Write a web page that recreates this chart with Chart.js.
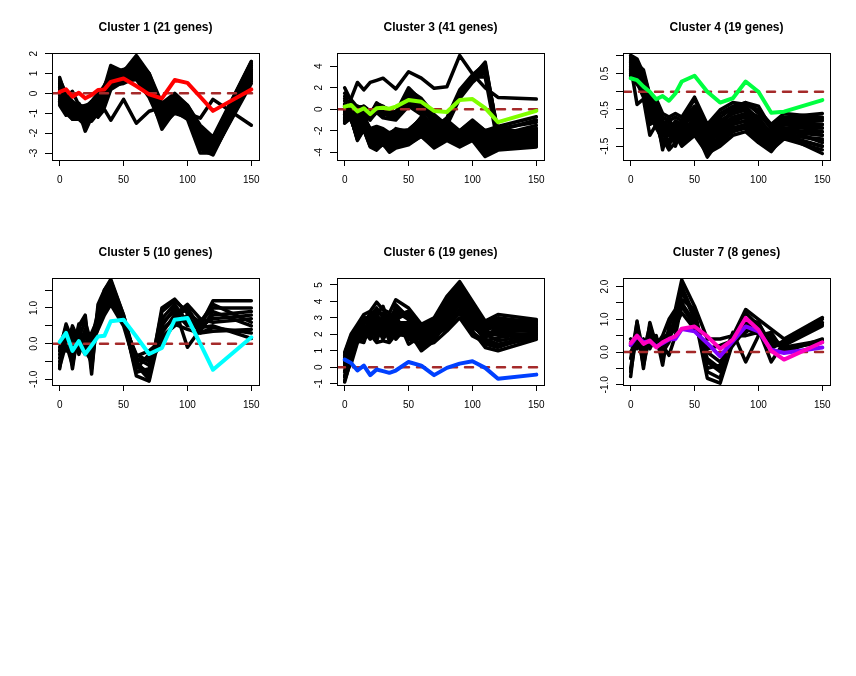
<!DOCTYPE html>
<html>
<head>
<meta charset="utf-8">
<script src="https://cdn.jsdelivr.net/npm/chart.js@4"></script>
<style>
  body { margin: 0; background: #fff; }
  #painel { position: relative; width: 856px; height: 676px; background: #fff; }
  canvas { position: absolute; }
</style>
</head>
<body>
<div id="painel"></div>
<script>
// time points (minutes) and x axis
var tempos = [0, 5, 10, 15, 20, 25, 30, 35, 40, 50, 60, 70, 80, 90, 100, 110, 120, 150];
var ticksX = [0, 50, 100, 150];
var limitesX = [-6, 156];

// Cluster 1 (21 genes)
var c1Genes = [
  [0.8,-0.2,-0.6,-0.8,-0.9,-0.6,-0.2,0.1,1.3,1.0,1.8,0.9,-0.8,-0.2,-0.8,-2.0,-2.7,1.5],
  [0.5,-0.5,-1.0,-1.1,-1.4,-1.0,-0.6,-0.3,0.9,0.9,1.5,0.6,-1.2,-0.5,-1.0,-2.4,-2.9,1.2],
  [0.1,-0.8,-1.2,-0.9,-1.9,-1.2,-0.8,-0.4,0.5,0.7,1.1,0.2,-1.5,-0.7,-1.2,-2.8,-3.1,0.8],
  [-0.3,-0.6,-0.9,-1.2,-1.0,-0.8,-0.4,0.0,0.7,1.1,1.3,0.5,-0.9,-0.3,-0.7,-2.1,-2.5,1.1],
  [0.3,-0.2,0.1,-0.6,-0.7,-0.5,-0.1,0.3,1.1,0.8,1.6,0.8,-0.6,-0.1,-0.6,-1.7,-2.3,1.6],
  [-0.5,-1.0,-1.3,-1.1,-1.5,-1.3,-0.9,-0.6,0.3,0.6,0.9,0.1,-1.8,-0.9,-1.3,-3.0,-3.0,0.6],
  [0.0,-0.7,-1.1,-1.0,-1.2,-0.7,-0.3,0.2,0.9,1.0,1.4,0.7,-1.1,-0.4,-0.9,-2.3,-2.8,1.3],
  [0.6,-0.3,-0.7,-0.7,-0.8,-0.9,-0.5,-0.1,1.2,0.9,1.7,1.0,-0.7,-0.2,-0.8,-1.9,-2.4,1.4],
  [-0.2,-0.9,-1.3,-1.3,-1.6,-1.1,-0.7,-0.5,0.4,0.5,0.8,0.0,-1.4,-0.8,-1.1,-2.6,-2.9,0.7],
  [0.4,-0.4,-0.8,-0.5,-1.0,-0.6,-0.1,0.4,1.0,1.2,1.5,0.6,-1.0,-0.3,-0.9,-2.2,-2.6,1.0],
  [-0.6,-1.1,-0.9,-1.2,-1.3,-1.4,-1.0,-0.7,0.2,0.6,0.7,-0.2,-1.6,-1.0,-1.2,-2.7,-3.0,0.5],
  [0.2,-0.5,-1.0,-0.8,-1.1,-1.0,-0.6,-0.1,0.8,0.8,1.2,0.3,-1.3,-0.6,-1.0,-2.5,-2.7,0.9],
  [0.7,0.0,-0.5,-0.6,-0.7,-0.4,0.0,0.3,1.4,1.1,1.9,1.0,-0.5,0.0,-0.6,-1.6,-2.2,1.6],
  [-0.4,-0.8,-1.2,-1.0,-1.4,-0.9,-0.5,-0.3,0.6,0.7,1.0,0.3,-1.2,-0.6,-1.1,-2.4,-2.8,0.9],
  [0.3,-0.3,-0.6,-0.9,-0.9,-0.7,-0.3,0.0,1.0,0.9,1.4,0.6,-0.9,-0.3,-0.8,-2.0,-2.5,1.2],
  [-0.1,-0.6,-1.1,-1.3,-1.2,-1.1,-0.8,-0.2,0.7,0.9,1.3,0.4,-1.1,-0.5,-1.0,-2.3,-2.7,1.0],
  [0.1,-0.7,-1.0,-1.0,-1.7,-1.2,-0.6,-0.4,0.5,0.8,1.0,0.2,-1.4,-0.6,-1.1,-2.6,-3.0,0.8],
  [0.5,-0.1,-0.4,-0.7,-0.6,-0.5,-0.2,0.2,1.2,1.0,1.6,0.8,-0.8,-0.2,-0.7,-1.8,-2.3,1.4],
  [-0.3,-0.9,-1.2,-1.1,-1.3,-1.0,-0.7,-0.3,0.4,0.7,1.1,0.3,-1.3,-0.7,-1.0,-2.5,-2.8,0.7],
  [0.0,-0.6,-0.9,-0.9,-1.1,-0.8,-0.4,-0.1,0.9,1.0,1.3,0.5,-1.0,-0.4,-0.9,-2.2,-2.6,1.1],
  [-0.4,-0.7,-0.9,-0.8,-1.0,-0.9,-1.2,-0.8,-1.35,-0.3,-1.5,-0.9,-0.7,-0.5,-1.0,-1.25,-0.3,-1.6]
];
var c1Media = [0.08,0.2,-0.17,0.03,-0.25,-0.08,0.17,0.2,0.58,0.75,0.37,-0.05,-0.25,0.67,0.53,-0.17,-0.88,0.2];

// Cluster 3 (41 genes)
var c3Genes = [
  [1.2,1.0,2.5,1.8,2.5,2.7,2.9,2.4,1.9,3.5,2.9,1.95,2.1,5.0,3.3,2.0,1.1,0.95],
  [-0.5,-1.0,-2.5,-1.5,-3.0,-2.8,-2.5,-3.0,-2.5,-2.8,-1.5,-2.0,-1.2,1.5,3.0,4.4,-2.5,-2.2],
  [-0.8,-0.5,-2.0,-1.0,-2.6,-2.2,-2.8,-3.3,-2.9,-3.0,-1.8,-2.5,-1.0,1.2,2.8,4.0,-2.8,-2.5],
  [0.0,0.3,-1.5,-0.5,-2.0,-2.5,-2.2,-2.6,-2.2,-2.5,-1.2,-1.8,-0.8,1.8,3.2,4.2,-2.2,-2.8],
  [-1.0,-0.8,-2.8,-1.8,-3.2,-3.0,-3.1,-3.5,-3.0,-3.2,-2.0,-2.8,-1.5,1.0,2.5,3.6,-3.0,-3.0],
  [-0.3,-0.2,-1.8,-1.2,-2.4,-2.0,-2.0,-2.4,-1.9,-2.2,-1.0,-1.5,-0.9,1.6,3.1,3.9,-2.0,-2.0],
  [-0.6,-0.6,-2.2,-1.4,-2.8,-2.6,-2.6,-2.8,-2.6,-2.6,-1.6,-2.2,-1.3,1.3,2.7,3.4,-2.6,-2.6],
  [0.2,0.1,-1.2,-0.8,-1.9,-1.8,-2.4,-3.0,-2.4,-2.4,-1.4,-2.6,-1.1,1.4,3.0,3.0,-3.3,-3.2],
  [2.0,0.8,-0.3,0.2,-0.5,0.6,0.2,0.0,-0.3,2.0,0.8,-1.0,-2.0,-2.5,-1.5,-2.5,-2.8,-2.2],
  [1.0,0.5,0.0,0.3,-0.2,0.3,0.0,-0.5,-0.6,1.5,0.5,-1.5,-2.3,-2.8,-2.0,-3.0,-3.2,-2.6],
  [0.5,0.2,-0.5,-0.2,-0.8,0.0,-0.3,-0.6,-0.8,1.2,0.2,-0.8,-1.8,-2.2,-1.2,-2.2,-2.5,-1.8],
  [-0.5,0.0,0.3,0.0,-0.6,0.5,0.3,-0.2,-0.4,1.8,1.0,-0.5,-1.5,-3.0,-2.2,-2.8,-2.0,-1.0],
  [0.8,0.6,-0.2,0.1,-0.3,0.2,-0.1,-0.8,-0.9,0.8,0.0,-1.2,-2.5,-2.6,-1.8,-3.3,-3.5,-3.0],
  [-1.0,-0.3,-0.8,-0.5,-1.0,-0.2,-0.6,-0.4,-0.2,0.6,-0.2,-2.0,-1.5,-2.0,-1.0,-2.0,-1.6,-0.7],
  [1.5,0.9,0.2,0.25,-0.4,0.4,0.1,-0.3,-0.5,1.6,0.6,-0.8,-2.2,-3.2,-2.4,-3.6,-3.0,-2.8],
  [0.3,-0.5,-1.0,-0.6,-0.9,-0.3,-0.8,-0.9,-1.0,0.3,-0.5,-1.6,-2.0,-2.4,-1.6,-2.6,-2.4,-1.5],
  [-1.3,-0.8,-2.9,-1.9,-3.5,-3.8,-3.2,-4.0,-3.6,-3.3,-2.5,-3.6,-2.9,-3.5,-2.9,-4.4,-3.8,-3.5],
  [-0.5,-0.4,-2.0,-1.5,-2.8,-2.4,-2.6,-3.0,-2.8,-2.8,-1.8,-2.8,-2.2,-3.0,-2.2,-3.5,-3.0,-3.0],
  [0.0,0.2,-1.2,-1.0,-2.2,-2.0,-2.2,-2.5,-2.0,-2.3,-1.2,-2.0,-1.6,-2.4,-1.6,-2.8,-2.5,-2.4],
  [-0.8,-0.6,-2.4,-1.6,-3.2,-3.0,-2.8,-3.5,-3.2,-3.0,-2.2,-3.2,-2.6,-3.2,-2.6,-3.8,-3.4,-3.2],
  [0.5,0.0,-1.0,-0.8,-1.9,-1.7,-2.0,-2.3,-1.9,-2.0,-0.8,-1.6,-1.2,-2.1,-1.2,-2.2,-2.0,-2.0],
  [-0.2,-0.3,-1.6,-1.2,-2.5,-2.2,-2.4,-2.8,-2.4,-2.5,-1.5,-2.4,-1.9,-2.7,-1.9,-3.0,-2.7,-2.7],
  [-1.0,-0.7,-2.6,-1.8,-3.0,-3.4,-3.0,-3.7,-3.4,-3.1,-2.3,-3.3,-2.7,-3.3,-2.7,-4.0,-3.6,-3.3],
  [0.3,-0.1,-1.4,-1.1,-2.3,-2.1,-2.1,-2.6,-2.2,-2.4,-1.0,-2.2,-1.5,-2.5,-1.5,-2.6,-2.3,-2.2],
  [-0.6,-0.5,-2.2,-1.4,-2.7,-2.6,-2.7,-3.2,-2.9,-2.9,-1.9,-2.9,-2.3,-2.9,-2.3,-3.3,-3.1,-2.9],
  [-0.3,-0.2,-1.8,-1.3,-2.6,-2.3,-2.3,-2.9,-2.5,-2.6,-1.6,-2.6,-2.0,-2.8,-2.0,-3.1,-2.8,-2.6],
  [-1.1,-0.9,-2.7,-1.7,-3.3,-3.6,-3.3,-3.8,-3.4,-3.2,-2.4,-3.4,-2.8,-3.4,-2.8,-4.2,-3.7,-3.4],
  [0.2,0.1,-1.1,-0.9,-2.0,-1.8,-2.3,-2.4,-2.1,-1.9,-0.9,-1.8,-1.4,-2.3,-1.4,-2.4,-2.2,-1.8],
  [-0.4,-0.3,-1.9,-1.5,-2.9,-2.7,-2.5,-3.1,-2.7,-2.7,-1.7,-2.7,-2.1,-3.1,-2.4,-3.4,-3.2,-3.1],
  [-0.9,-0.6,-2.5,-1.9,-3.4,-3.1,-2.9,-3.6,-3.3,-3.0,-2.0,-3.0,-2.5,-3.0,-2.5,-3.7,-3.3,-3.0],
  [0.1,0.0,-1.3,-1.0,-2.1,-1.9,-1.9,-2.4,-1.8,-2.1,-1.1,-1.9,-1.7,-2.2,-1.7,-2.5,-2.1,-2.1],
  [-0.7,-0.5,-2.3,-1.6,-3.1,-2.9,-2.6,-3.4,-3.0,-2.9,-2.1,-3.1,-2.4,-3.1,-2.5,-3.6,-3.0,-2.8],
  [-0.1,-0.4,-1.7,-1.2,-2.4,-2.2,-2.4,-2.7,-2.3,-2.4,-1.3,-2.3,-1.8,-2.6,-1.8,-2.9,-2.6,-2.5],
  [-1.2,-0.8,-2.8,-1.8,-3.4,-3.7,-3.1,-3.9,-3.5,-3.2,-2.5,-3.5,-2.8,-3.4,-2.8,-4.1,-3.5,-3.4],
  [0.4,0.1,-0.9,-0.7,-1.8,-1.6,-1.8,-2.2,-1.9,-2.2,-0.7,-1.5,-1.0,-2.0,-1.1,-2.0,-1.8,-1.2],
  [-0.5,-0.6,-2.1,-1.3,-2.7,-2.5,-2.5,-3.0,-2.6,-2.7,-1.7,-2.5,-2.1,-2.8,-2.1,-3.2,-2.9,-2.8],
  [-0.2,-0.2,-1.5,-1.1,-2.4,-2.0,-2.3,-2.6,-2.2,-2.3,-1.4,-2.1,-1.7,-2.5,-1.7,-2.7,-2.4,-2.3],
  [-0.8,-0.7,-2.4,-1.7,-3.1,-3.2,-2.8,-3.3,-3.1,-3.0,-2.2,-3.2,-2.5,-3.2,-2.6,-3.6,-3.3,-3.1],
  [0.0,-0.1,-1.3,-0.9,-2.2,-2.0,-2.0,-2.5,-2.1,-2.2,-1.2,-2.0,-1.5,-2.4,-1.5,-2.6,-2.3,-2.0],
  [-0.4,-0.5,-2.0,-1.4,-2.6,-2.4,-2.7,-2.9,-2.7,-2.6,-1.8,-2.8,-2.2,-2.9,-2.2,-3.0,-2.8,-2.7],
  [-1.0,-0.8,-2.6,-1.6,-3.1,-3.3,-3.0,-3.5,-3.3,-3.1,-2.3,-3.3,-2.6,-3.3,-2.7,-3.9,-3.5,-3.3]
];
var c3Media = [0.25,0.4,-0.2,0.1,-0.45,0.1,0.15,0.05,0.25,0.87,0.7,-0.15,-0.25,0.87,0.95,0.1,-1.2,-0.15];

// Cluster 4 (19 genes)
var c4Genes = [
  [1.0,0.9,0.5,-0.1,-0.3,-0.7,-0.8,-0.7,-0.8,-0.2,-1.0,-0.6,-0.4,-0.3,-0.4,-1.0,-0.7,-0.6],
  [0.8,0.7,0.3,-0.3,-0.5,-0.9,-1.0,-0.9,-1.0,-0.5,-1.2,-0.8,-0.6,-0.5,-0.7,-1.2,-0.9,-0.9],
  [0.9,0.5,0.0,-0.6,-0.6,-1.6,-0.9,-1.1,-0.9,-0.7,-1.4,-1.0,-0.8,-0.6,-0.9,-1.3,-1.0,-1.0],
  [0.6,0.8,0.2,-0.5,-0.8,-1.1,-1.4,-1.0,-1.2,-0.9,-1.6,-1.2,-0.9,-0.8,-1.0,-1.4,-1.1,-1.2],
  [0.7,-0.35,-0.2,-1.2,-0.9,-1.2,-1.1,-1.3,-1.1,-0.8,-1.5,-1.0,-0.7,-0.7,-1.1,-1.5,-1.2,-1.3],
  [0.5,0.6,0.4,-0.2,-0.4,-0.8,-1.2,-0.8,-0.9,-0.6,-1.3,-0.9,-0.5,-0.4,-0.8,-1.1,-0.8,-0.8],
  [0.95,0.4,0.1,-0.8,-0.7,-1.3,-1.6,-1.4,-1.3,-1.0,-1.8,-1.3,-1.1,-0.9,-1.2,-1.6,-1.2,-1.5],
  [0.4,0.3,-0.1,-0.4,-0.6,-1.0,-0.7,-1.2,-1.4,-1.1,-1.6,-1.4,-1.0,-1.0,-1.3,-1.6,-1.3,-1.6],
  [0.85,0.75,0.6,-0.1,-0.2,-0.6,-0.7,-0.6,-0.7,-0.15,-0.9,-0.5,-0.3,-0.35,-0.5,-0.9,-0.6,-0.7],
  [0.6,0.4,0.2,-0.7,-0.9,-1.4,-1.3,-1.2,-1.5,-1.2,-1.7,-1.5,-1.2,-1.1,-1.4,-1.65,-1.2,-1.7],
  [0.75,0.65,0.3,-0.3,-0.4,-1.0,-0.9,-1.5,-1.0,-0.8,-1.4,-1.1,-0.7,-0.6,-0.9,-1.3,-0.9,-1.1],
  [0.5,0.2,0.0,-0.9,-0.8,-1.5,-1.1,-0.9,-1.2,-1.0,-1.5,-1.3,-0.9,-0.8,-1.2,-1.5,-1.0,-1.4],
  [0.9,0.85,0.45,-0.2,-0.5,-0.8,-1.0,-1.1,-0.8,-0.4,-1.1,-0.7,-0.45,-0.3,-0.6,-1.0,-0.7,-0.75],
  [0.7,0.5,0.1,-0.5,-0.7,-1.2,-1.2,-1.0,-1.1,-0.9,-1.4,-1.1,-0.8,-0.7,-1.0,-1.4,-1.1,-1.1],
  [0.45,0.25,-0.15,-0.6,-1.0,-1.3,-1.4,-1.3,-1.4,-1.1,-1.7,-1.4,-1.1,-1.0,-1.3,-1.55,-1.25,-1.5],
  [0.8,0.6,0.35,-0.4,-0.6,-0.9,-0.8,-1.2,-0.9,-0.5,-1.2,-0.8,-0.6,-0.5,-0.8,-1.2,-0.8,-0.9],
  [0.65,0.45,0.15,-0.45,-0.55,-1.0,-1.5,-1.0,-1.3,-0.7,-1.3,-1.2,-0.9,-0.6,-1.1,-1.4,-1.0,-1.2],
  [0.55,0.35,0.05,-0.65,-0.75,-1.1,-1.0,-1.4,-1.0,-1.0,-1.6,-1.0,-1.0,-0.9,-1.2,-1.45,-1.15,-1.35],
  [0.85,0.7,0.25,-0.35,-0.45,-0.85,-0.95,-0.85,-0.95,-0.6,-1.25,-0.95,-0.55,-0.45,-0.75,-1.15,-0.85,-1.0]
];
var c4Media = [0.37,0.32,0.14,0.0,-0.21,-0.12,-0.25,-0.05,0.28,0.44,0.0,-0.3,-0.18,0.28,0.0,-0.58,-0.55,-0.23];

// Cluster 5 (10 genes)
var c5Genes = [
  [-0.7,0.5,-0.7,0.5,0.8,-0.85,1.1,1.5,1.8,0.8,-0.5,-0.9,0.9,1.2,0.9,0.5,1.2,1.2],
  [-0.4,0.3,0.4,-0.3,0.2,0.1,0.9,1.3,1.6,0.7,-0.9,-1.05,0.5,1.0,-0.1,0.4,0.8,0.9],
  [-0.2,0.55,0.1,0.4,-0.1,0.3,0.7,1.2,1.5,0.6,-0.4,-0.6,0.3,0.8,1.1,0.7,0.6,0.7],
  [0.0,-0.2,0.5,0.1,0.3,-0.3,0.5,0.9,1.2,0.55,-0.3,-0.5,0.0,0.6,0.7,0.35,0.9,0.5],
  [-0.6,0.2,-0.3,0.55,-0.2,-0.5,0.8,1.4,1.7,0.75,-0.6,-0.8,0.7,1.1,0.6,0.6,1.0,1.0],
  [-0.3,0.4,-0.5,0.2,0.6,0.0,0.4,0.8,1.1,0.5,-0.7,-0.3,0.2,0.5,0.8,0.3,0.45,0.3],
  [-0.5,0.1,0.2,-0.1,0.4,-0.6,1.0,1.1,1.4,0.65,-0.8,-0.7,0.6,0.9,0.5,0.5,0.7,0.8],
  [-0.1,0.45,-0.1,0.3,0.0,0.2,0.6,1.0,1.3,0.7,-0.5,-0.4,0.4,0.7,1.0,0.45,0.5,0.15],
  [-0.65,0.0,-0.6,0.45,0.7,-0.7,0.9,1.5,1.75,0.8,-0.6,-1.0,1.0,1.25,0.85,0.6,1.1,0.6],
  [-0.2,0.35,0.3,0.0,-0.3,0.15,0.55,0.95,1.25,0.6,-0.35,-0.2,0.1,0.55,0.4,0.3,0.35,0.4]
];
var c5Media = [0.05,0.3,-0.2,0.07,-0.29,-0.05,0.2,0.22,0.63,0.67,0.2,-0.29,-0.12,0.67,0.72,0.0,-0.73,0.18];

// Cluster 6 (19 genes)
var c6Genes = [
  [0.9,2.0,2.6,3.2,3.4,3.95,3.5,3.3,4.1,3.6,2.6,3.0,4.3,5.2,4.0,2.8,3.2,2.9],
  [0.5,1.5,2.3,2.8,3.0,3.2,3.7,2.6,3.5,3.2,2.3,2.8,4.0,4.8,3.6,2.5,2.9,2.8],
  [-0.9,0.5,1.8,2.4,1.9,2.8,2.0,3.0,2.6,2.5,2.0,2.2,3.2,4.3,3.2,2.2,2.6,2.6],
  [0.2,1.8,2.5,2.0,2.8,1.6,2.7,1.8,3.2,1.4,1.9,2.4,2.5,4.0,2.5,1.8,2.4,2.4],
  [0.7,1.2,2.0,3.0,2.2,3.5,1.8,2.9,1.8,2.8,1.5,2.0,3.5,4.5,3.0,2.6,2.2,2.2],
  [-0.5,0.8,1.6,1.5,2.6,2.4,3.0,2.2,2.8,2.2,1.0,1.6,2.8,3.8,2.2,1.2,1.0,1.7],
  [0.4,1.6,2.4,2.6,3.3,2.0,3.2,2.0,3.8,3.0,2.5,2.9,4.1,5.0,3.8,2.7,3.0,2.7],
  [0.0,1.0,1.9,2.2,1.7,2.6,2.3,2.5,2.2,2.4,1.7,2.1,3.0,4.2,2.8,1.9,2.0,2.0],
  [0.6,1.4,2.2,3.1,2.4,3.0,2.5,3.2,2.9,3.3,2.2,2.6,3.8,4.6,3.4,2.3,2.7,2.5],
  [-0.3,0.2,1.5,1.8,2.0,1.5,1.6,1.5,2.0,1.9,1.3,1.5,2.2,3.0,1.9,1.5,1.3,1.8],
  [0.8,1.9,2.5,2.9,3.1,3.6,3.0,2.8,3.6,3.1,2.4,2.7,3.9,4.9,3.7,2.4,2.8,2.8],
  [0.3,1.3,2.1,2.5,2.5,2.2,2.8,2.4,2.4,2.0,1.8,2.3,3.4,4.4,3.1,2.1,2.1,2.3],
  [-0.6,0.6,1.7,2.0,2.1,2.9,2.1,2.7,1.7,2.6,1.6,1.8,2.6,3.5,2.4,2.0,1.6,2.0],
  [0.5,1.7,2.4,2.7,2.9,3.3,3.3,3.1,3.4,2.9,2.1,2.5,3.6,4.7,3.5,2.3,2.5,2.6],
  [0.1,1.1,2.0,1.8,2.6,1.9,2.4,1.9,3.0,1.7,1.4,1.9,2.4,3.3,2.1,1.6,1.8,2.1],
  [-0.2,0.9,1.8,2.3,2.3,2.5,1.7,2.3,2.1,2.3,1.2,1.7,2.9,4.0,2.6,1.7,1.4,1.9],
  [0.6,1.5,2.3,2.8,3.2,3.0,2.9,2.6,3.1,3.4,2.4,2.8,3.7,5.1,3.9,2.6,2.6,2.4],
  [0.2,1.2,2.2,2.4,1.8,2.7,2.2,2.8,2.5,2.1,1.7,2.0,3.1,4.1,2.7,2.0,2.3,2.2],
  [-0.8,0.4,1.6,2.1,2.7,2.3,2.6,1.6,2.7,2.7,1.9,2.2,3.3,3.7,3.3,1.4,1.2,2.0]
];
var c6Media = [0.46,0.26,-0.2,0.1,-0.48,-0.14,-0.24,-0.34,-0.2,0.32,0.1,-0.48,-0.04,0.22,0.36,-0.04,-0.7,-0.45];

// Cluster 7 (8 genes)
var c7Genes = [
  [-0.75,0.95,-0.5,0.9,0.2,0.5,1.0,1.3,2.2,1.4,0.4,0.4,0.5,1.3,1.0,0.7,0.4,1.05],
  [0.4,0.2,0.4,0.1,0.5,-0.4,0.8,1.2,2.0,1.1,-0.8,-0.95,0.3,0.9,0.7,-0.3,0.3,0.9],
  [-0.5,0.7,-0.3,0.6,0.3,0.2,-0.1,0.5,1.5,0.9,-0.3,-0.6,0.4,0.6,0.9,0.2,0.2,0.8],
  [0.2,0.4,0.2,0.4,0.4,0.3,0.4,1.0,1.8,1.2,-0.5,-0.4,0.6,-0.3,0.5,0.6,0.0,0.4],
  [-0.2,0.9,0.0,0.8,0.25,0.4,0.6,0.8,1.2,0.7,0.1,0.2,0.35,1.2,0.8,0.3,0.25,1.0],
  [0.3,0.1,0.3,0.2,0.45,-0.2,0.7,0.9,1.6,1.3,-0.6,-0.8,0.5,0.5,0.6,0.5,0.1,0.3],
  [-0.6,0.6,-0.4,0.5,0.2,0.0,0.3,1.1,1.9,1.0,-0.2,-0.5,0.45,1.0,0.9,0.1,0.35,0.85],
  [0.0,0.3,0.1,0.3,0.35,0.1,0.5,0.7,1.4,0.8,0.0,-0.3,0.2,0.7,0.55,0.4,0.15,0.35]
];
var c7Media = [0.22,0.48,0.3,0.33,0.17,0.27,0.38,0.4,0.7,0.63,0.27,-0.13,0.33,0.78,0.63,0.07,-0.03,0.14];
var c8Media = [0.27,0.5,0.25,0.35,0.14,0.3,0.4,0.48,0.71,0.78,0.48,0.1,0.38,1.04,0.68,0.04,-0.23,0.3];

// y axis ticks and labels per panel
var ticksY1 = [-3, -2, -1, 0, 1, 2];
var rotulosY1 = ['-3', '-2', '-1', '0', '1', '2'];
var ticksY3 = [-4, -2, 0, 2, 4];
var rotulosY3 = ['-4', '-2', '0', '2', '4'];
var ticksY4 = [-1.5, -1, -0.5, 0, 0.5, 1];
var rotulosY4 = ['-1.5', '', '-0.5', '', '0.5', ''];
var ticksY5 = [-1, -0.5, 0, 0.5, 1, 1.5];
var rotulosY5 = ['-1.0', '', '0.0', '', '1.0', ''];
var ticksY6 = [-1, 0, 1, 2, 3, 4, 5];
var rotulosY6 = ['-1', '0', '1', '2', '3', '4', '5'];
var ticksY7 = [-1, -0.5, 0, 0.5, 1, 1.5, 2];
var rotulosY7 = ['-1.0', '', '0.0', '', '1.0', '', '2.0'];

var paineis = [
  { titulo: 'Cluster 1 (21 genes)', genes: c1Genes, medias: [c1Media], cores: ['#FF0000'], ticks: ticksY1, rotulos: rotulosY1, lim: [-3.35, 2.03] },
  { titulo: 'Cluster 3 (41 genes)', genes: c3Genes, medias: [c3Media], cores: ['#80FF00'], ticks: ticksY3, rotulos: rotulosY3, lim: [-4.72, 5.24] },
  { titulo: 'Cluster 4 (19 genes)', genes: c4Genes, medias: [c4Media], cores: ['#00FF40'], ticks: ticksY4, rotulos: rotulosY4, lim: [-1.88, 1.065] },
  { titulo: 'Cluster 5 (10 genes)', genes: c5Genes, medias: [c5Media], cores: ['#00FFFF'], ticks: ticksY5, rotulos: rotulosY5, lim: [-1.157, 1.84] },
  { titulo: 'Cluster 6 (19 genes)', genes: c6Genes, medias: [c6Media], cores: ['#0040FF'], ticks: ticksY6, rotulos: rotulosY6, lim: [-1.08, 5.42] },
  { titulo: 'Cluster 7 (8 genes)', genes: c7Genes, medias: [c8Media, c7Media], cores: ['#FF00BF', '#8000FF'], ticks: ticksY7, rotulos: rotulosY7, lim: [-1.006, 2.26] }
];

var fonte = '"Liberation Sans", Arial, Helvetica, sans-serif';

// box, title and rotated y labels like base R graphics
var pluginMoldura = {
  id: 'moldura',
  afterDraw: function (chart, args, opts) {
    var ctx = chart.ctx, a = chart.chartArea, escalaY = chart.scales.y;
    ctx.save();
    ctx.strokeStyle = '#000';
    ctx.lineWidth = 1;
    ctx.strokeRect(a.left + 0.5, a.top + 0.5, a.right - a.left, a.bottom - a.top);
    ctx.fillStyle = '#000';
    ctx.font = 'bold 12px ' + fonte;
    ctx.textAlign = 'center';
    ctx.textBaseline = 'middle';
    ctx.fillText(opts.titulo, (a.left + a.right) / 2, 28);
    ctx.font = '10px ' + fonte;
    escalaY.ticks.forEach(function (t, i) {
      var txt = opts.rotulos[i];
      if (!txt) return;
      ctx.save();
      ctx.translate(34, escalaY.getPixelForValue(t.value));
      ctx.rotate(-Math.PI / 2);
      ctx.fillText(txt, 0, 0);
      ctx.restore();
    });
    ctx.restore();
  }
};

function linha(valores, cor, largura) {
  return {
    data: tempos.map(function (t, i) { return { x: t, y: valores[i] }; }),
    borderColor: cor,
    borderWidth: largura,
    pointRadius: 0,
    fill: false,
    tension: 0,
    borderJoinStyle: 'round',
    borderCapStyle: 'round'
  };
}

function graficoCluster(p, k) {
  var canvas = document.createElement('canvas');
  canvas.width = 285;
  canvas.height = 225;
  canvas.style.left = [0, 285, 571][k % 3] + 'px';
  canvas.style.top = [0, 225][Math.floor(k / 3)] + 'px';
  document.getElementById('painel').appendChild(canvas);

  // first dataset is drawn on top
  var datasets = [];
  p.medias.forEach(function (m, i) { datasets.push(linha(m, p.cores[i], 4)); });
  var zero = linha([0, 0], '#A52A2A', 2.5);
  zero.data = [{ x: limitesX[0], y: 0 }, { x: limitesX[1], y: 0 }];
  zero.borderDash = [8, 8];
  datasets.push(zero);
  p.genes.forEach(function (g) { datasets.push(linha(g, '#000000', 3.5)); });

  new Chart(canvas.getContext('2d'), {
    type: 'line',
    data: { datasets: datasets },
    options: {
      responsive: false,
      animation: false,
      events: [],
      layout: { padding: { top: 53, right: 26, left: 0, bottom: 0 } },
      plugins: {
        legend: { display: false },
        tooltip: { enabled: false },
        moldura: { titulo: p.titulo, rotulos: p.rotulos }
      },
      scales: {
        x: {
          type: 'linear',
          min: limitesX[0],
          max: limitesX[1],
          afterBuildTicks: function (s) { s.ticks = ticksX.map(function (v) { return { value: v }; }); },
          afterFit: function (s) { s.height = 65; },
          grid: { drawOnChartArea: false, tickLength: 6, color: '#000' },
          border: { display: false },
          ticks: { color: '#000', font: { size: 10, family: fonte }, padding: 8, maxRotation: 0, autoSkip: false,
                   callback: function (v) { return String(v); } }
        },
        y: {
          type: 'linear',
          min: p.lim[0],
          max: p.lim[1],
          afterBuildTicks: function (s) { s.ticks = p.ticks.map(function (v) { return { value: v }; }); },
          afterFit: function (s) { s.width = 52; },
          grid: { drawOnChartArea: false, tickLength: 7, color: '#000' },
          border: { display: false },
          ticks: { display: false }
        }
      }
    },
    plugins: [pluginMoldura]
  });
}

paineis.forEach(graficoCluster);
</script>
</body>
</html>
